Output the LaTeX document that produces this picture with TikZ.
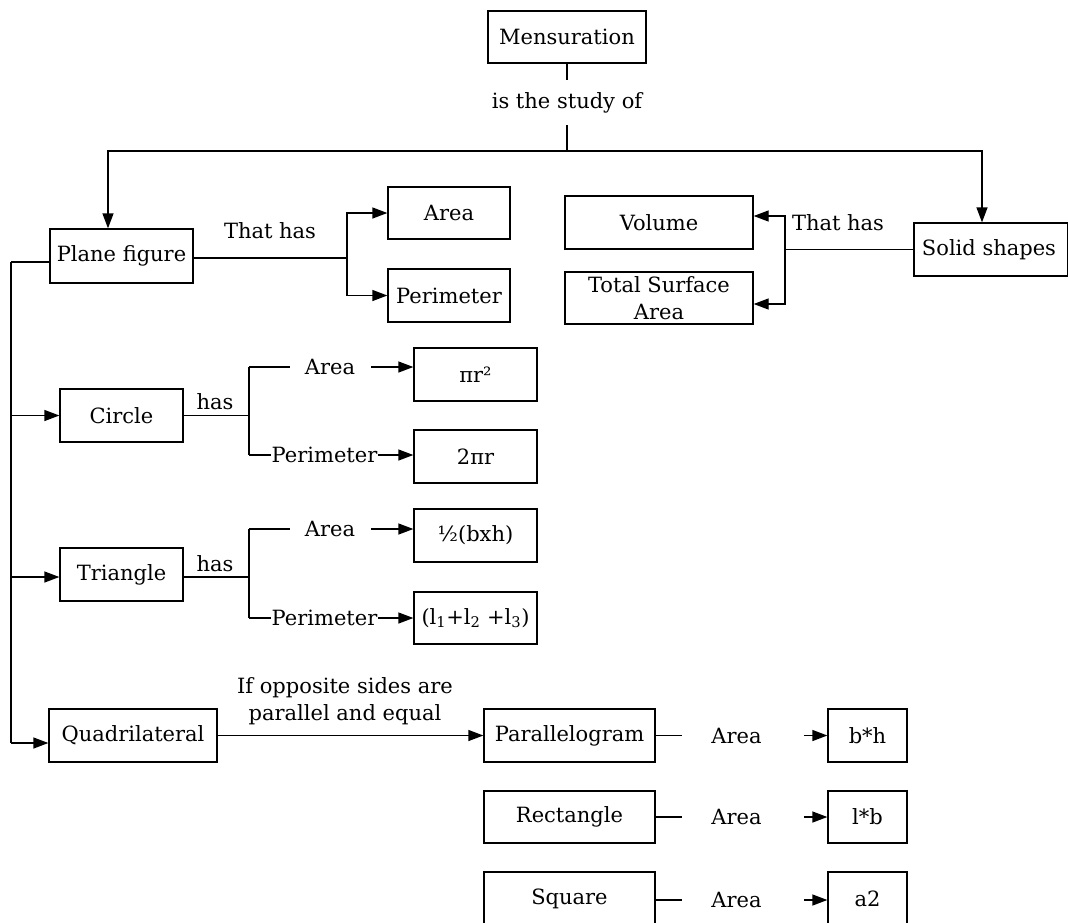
\documentclass[tikz,border=0pt]{standalone}
\usepackage{fontspec}
\setmainfont{DejaVu Serif}
\usetikzlibrary{arrows.meta,calc}
\begin{document}
\begin{tikzpicture}[x=1pt,y=-1pt,
  every node/.style={font=\fontsize{21}{27}\selectfont},
  box/.style={draw, line width=1.3pt, inner sep=0pt, minimum height=53pt, align=center},
  lbl/.style={inner sep=0pt, align=center},
  ln/.style={line width=1.3pt},
  arr/.style={line width=1.3pt, -{Triangle[length=15pt,width=11pt]}}]
\useasboundingbox (0,0) rectangle (1068,922);
% nodes
\node[box, minimum width=158pt, minimum height=52pt] (men) at (567,37) {Mensuration};
\node[lbl, minimum height=45pt] (study) at (567,102.5) {is the study of};
\coordinate (top) at (567,151);
\node[box, minimum width=143pt, minimum height=54pt] (plane) at (121.5,256) {Plane figure};
\node[box, minimum width=154pt] (solid) at (991,249.5) {\hspace*{-4pt}Solid shapes};
\node[box, minimum width=122pt, minimum height=52pt] (area1) at (449,213) {Area};
\node[box, minimum width=122pt] (perim1) at (449,295.5) {Perimeter};
\node[box, minimum width=188pt] (volume) at (659,222.5) {Volume};
\node[box, minimum width=188pt, minimum height=52pt] (tsa) at (659,298) {Total Surface\\Area};
\node[lbl] (th1) at (270,231) {That has};
\node[lbl] (th2) at (838,223) {That has};
% circle / triangle
\node[box, minimum width=123pt] (circle) at (121.5,415.5) {Circle};
\node[box, minimum width=123pt] (pir2) at (475.5,374.5) {πr²};
\node[box, minimum width=123pt] (twopir) at (475.5,456.5) {2πr};
\node[lbl] (has1) at (215,402) {has};
\node[lbl] (carea) at (330,367) {Area};
\node[lbl] (cper) at (324.5,455) {Perimeter};
\node[box, minimum width=123pt] (triangle) at (121.5,574.5) {Triangle};
\node[box, minimum width=123pt] (half) at (475.5,535.5) {½(bxh)};
\node[box, minimum width=123pt, minimum height=52pt] (lsum) at (475.5,618) {(l\textsubscript{1}+l\textsubscript{2} +l\textsubscript{3})};
\node[lbl] (has2) at (215,564) {has};
\node[lbl] (tarea) at (330,529) {Area};
\node[lbl] (tper) at (324.5,618) {Perimeter};
% quadrilaterals
\node[box, minimum width=168pt] (quad) at (133,735.5) {Quadrilateral};
\node[lbl] (cond) at (345,701.5) {If opposite sides are\\parallel and equal};
\node[box, minimum width=171pt] (para) at (569.5,735.5) {Parallelogram};
\node[box, minimum width=171pt, minimum height=52pt] (rect) at (569.5,817) {Rectangle};
\node[box, minimum width=171pt] (square) at (569.5,898.5) {Square};
\node[lbl] (parea) at (736.5,735.5) {Area};
\node[lbl] (rarea) at (736.5,817) {Area};
\node[lbl] (sarea) at (736.5,900) {Area};
\node[box, minimum width=79pt] (bh) at (867.5,735.5) {b*h};
\node[box, minimum width=79pt, minimum height=52pt] (lb) at (867.5,817) {l*b};
\node[box, minimum width=79pt] (a2) at (867.5,898.5) {a2};
% top connectors
\draw[ln] (men.south) -- (study.north);
\draw[ln] (study.south) -- (top);
\draw[arr] (top) -| ($(plane.north)+(-13.5,0)$);
\draw[arr] (top) -| ($(solid.north)+(-9,0)$);
% plane figure
\coordinate (j1) at (347,258);
\draw[ln] (plane.east |- j1) -- (j1);
\draw[arr] (j1) |- (area1.west);
\draw[arr] (j1) |- (perim1.west);
% solid
\coordinate (j2) at (785,249.5);
\draw[ln] (solid.west) -- (j2);
\draw[arr] (j2) |- ($(volume.east)+(0,-6.5)$);
\draw[arr] (j2) |- ($(tsa.east)+(0,6)$);
% trunk
\coordinate (t0) at (11,262);
\draw[ln] (t0) -- (plane.west |- t0);
\draw[ln] (t0) -- (11,743);
\draw[arr] (t0 |- circle.west) -- (circle.west);
\draw[arr] ($(t0 |- triangle.west)+(0,2.5)$) -- ($(triangle.west)+(0,2.5)$);
\draw[arr] (11,743) -- (quad.west |- 0,743);
% circle branches
\coordinate (j3) at (249,415.5);
\draw[ln] (circle.east) -- (j3);
\draw[ln] (j3 |- carea.west) -- (j3 |- cper.west);
\draw[ln, shorten >=15pt] (j3 |- carea.west) -- (carea.west);
\draw[ln] (j3 |- cper.west) -- (cper.west);
\draw[arr, shorten <=16pt] (carea.east) -- (pir2.west |- carea.east);
\draw[arr] (cper.east) -- (twopir.west |- cper.east);
% triangle branches
\coordinate (j4) at (249,577);
\draw[ln] ($(triangle.east)+(0,2.5)$) -- (j4);
\draw[ln] (j4 |- tarea.west) -- (j4 |- tper.west);
\draw[ln, shorten >=15pt] (j4 |- tarea.west) -- (tarea.west);
\draw[ln] (j4 |- tper.west) -- (tper.west);
\draw[arr, shorten <=16pt] (tarea.east) -- (half.west |- tarea.east);
\draw[arr] (tper.east) -- (lsum.west |- tper.east);
% quadrilateral
\draw[arr] (quad.east) -- (para.west);
\draw[ln, shorten >=29pt] (para.east) -- (parea.west);
\draw[arr, shorten <=42pt] (parea.east) -- (bh.west |- parea.east);
\draw[ln, shorten >=29pt] (rect.east) -- (rarea.west);
\draw[arr, shorten <=42pt] (rarea.east) -- (lb.west |- rarea.east);
\draw[ln, shorten >=29pt] (square.east |- sarea.west) -- (sarea.west);
\draw[arr, shorten <=42pt] (sarea.east) -- (a2.west |- sarea.east);
\end{tikzpicture}
\end{document}
